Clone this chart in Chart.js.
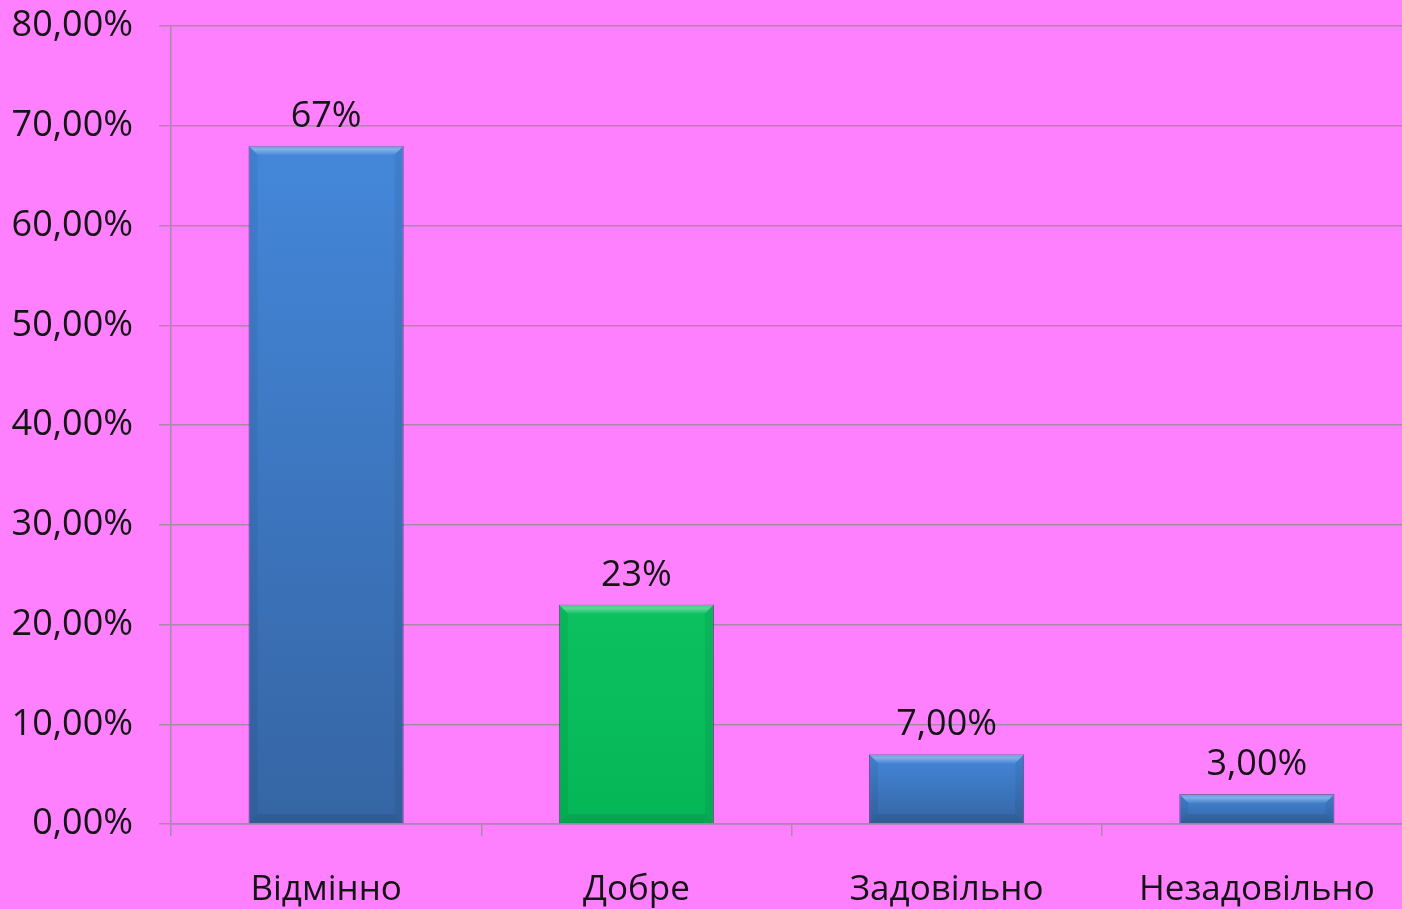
<!DOCTYPE html>
<html>
<head>
<meta charset="utf-8">
<script src="https://cdn.jsdelivr.net/npm/chart.js@4/dist/chart.umd.min.js"></script>
<style>
    html, body { margin: 0; padding: 0; overflow: hidden; background: rgb(255, 128, 255); }
    #wrap { width: 1412px; height: 909px; }
</style>
</head>
<body>
<div id="wrap"><canvas id="gradesChart" width="1412" height="909"></canvas></div>
<script>
"use strict";

// Chart data
var categories = ["Відмінно", "Добре", "Задовільно", "Незадовільно"];
var shares = [68, 22, 7, 3];
var barLabels = ["67%", "23%", "7,00%", "3,00%"];
var yTicks = [0, 10, 20, 30, 40, 50, 60, 70, 80];

var gridColor = "rgb(166, 138, 166)";
var textColor = "#141414";
var fontFamily = "'Open Sans', 'DejaVu Sans', sans-serif";

function barFill(context) {
    var plain = context.dataIndex === 1 ? "#08bb5b" : "#3f7fcc";
    var chart = context.chart;
    var yScale = chart.scales.y;
    if (!yScale || context.raw === undefined) {
        return plain;
    }
    var top = yScale.getPixelForValue(context.raw);
    var bottom = yScale.getPixelForValue(0);
    if (!isFinite(top) || !isFinite(bottom) || top === bottom) {
        return plain;
    }
    var g = chart.ctx.createLinearGradient(0, top, 0, bottom);
    if (context.dataIndex === 1) {
        g.addColorStop(0, "#0cc160");
        g.addColorStop(1, "#05b657");
    } else {
        g.addColorStop(0, "#4487da");
        g.addColorStop(1, "#3565a4");
    }
    return g;
}

// Bevel look and value labels above bars
var barDecor = {
    id: "barDecor",
    afterDatasetsDraw: function (chart) {
        var ctx = chart.ctx;
        var meta = chart.getDatasetMeta(0);
        meta.data.forEach(function (el, i) {
            var half = el.width / 2;
            var left = el.x - half, right = el.x + half;
            var top = el.y, bottom = el.base;
            var b = 9;
            ctx.save();
            // top highlight band
            var hl = ctx.createLinearGradient(0, top, 0, top + b);
            hl.addColorStop(0, "rgba(255,255,255,0.15)");
            hl.addColorStop(0.4, "rgba(255,255,255,0.35)");
            hl.addColorStop(1, "rgba(255,255,255,0.05)");
            ctx.fillStyle = hl;
            ctx.beginPath();
            ctx.moveTo(left, top);
            ctx.lineTo(right, top);
            ctx.lineTo(right - b, top + b);
            ctx.lineTo(left + b, top + b);
            ctx.closePath();
            ctx.fill();
            // side and bottom shading
            ctx.fillStyle = "rgba(0,0,0,0.06)";
            ctx.beginPath();
            ctx.moveTo(left, top);
            ctx.lineTo(left + b, top + b);
            ctx.lineTo(left + b, bottom - b);
            ctx.lineTo(left, bottom);
            ctx.closePath();
            ctx.fill();
            ctx.beginPath();
            ctx.moveTo(right, top);
            ctx.lineTo(right - b, top + b);
            ctx.lineTo(right - b, bottom - b);
            ctx.lineTo(right, bottom);
            ctx.closePath();
            ctx.fill();
            ctx.fillStyle = "rgba(0,0,0,0.09)";
            ctx.beginPath();
            ctx.moveTo(left, bottom);
            ctx.lineTo(left + b, bottom - b);
            ctx.lineTo(right - b, bottom - b);
            ctx.lineTo(right, bottom);
            ctx.closePath();
            ctx.fill();

            // value label
            ctx.fillStyle = textColor;
            ctx.font = "36px " + fontFamily;
            ctx.textAlign = "center";
            ctx.textBaseline = "middle";
            ctx.fillText(barLabels[i], el.x, top - 29);
            ctx.restore();
        });
    }
};

var config = {
    type: "bar",
    data: {
        labels: categories,
        datasets: [{
            data: shares,
            backgroundColor: barFill,
            borderColor: "rgba(20, 40, 70, 0.6)",
            borderWidth: 1,
            barPercentage: 0.5,
            categoryPercentage: 1
        }]
    },
    options: {
        responsive: false,
        animation: false,
        layout: {
            padding: { top: 0, right: 0, bottom: 0, left: 0 }
        },
        plugins: {
            legend: { display: false },
            title: { display: false },
            tooltip: { enabled: false }
        },
        scales: {
            x: {
                grid: {
                    display: true,
                    drawOnChartArea: false,
                    drawTicks: true,
                    tickLength: 12,
                    color: gridColor,
                    lineWidth: 1.5,
                    offset: true
                },
                border: { display: true, color: gridColor, width: 1.5 },
                ticks: {
                    color: textColor,
                    padding: 33,
                    font: { family: fontFamily, size: 35 }
                },
                afterFit: function (scale) { scale.height = 85; }
            },
            y: {
                min: 0,
                max: 80,
                afterBuildTicks: function (scale) {
                    scale.ticks = yTicks.map(function (v) { return { value: v }; });
                },
                grid: {
                    color: gridColor,
                    lineWidth: 1.5,
                    drawTicks: true,
                    tickLength: 12
                },
                border: { display: true, color: gridColor, width: 1.5 },
                ticks: {
                    color: textColor,
                    padding: 26,
                    font: { family: fontFamily, size: 36 },
                    callback: function (value) {
                        return value.toFixed(2).replace(".", ",") + "%";
                    }
                },
                afterFit: function (scale) {
                    scale.width = 171;
                    scale.paddingTop = 26;
                    scale.paddingBottom = 0;
                }
            }
        }
    },
    plugins: [barDecor]
};

window.onload = function () {
    var ctx = document.getElementById("gradesChart").getContext("2d");
    new Chart(ctx, config);
};
</script>
</body>
</html>
